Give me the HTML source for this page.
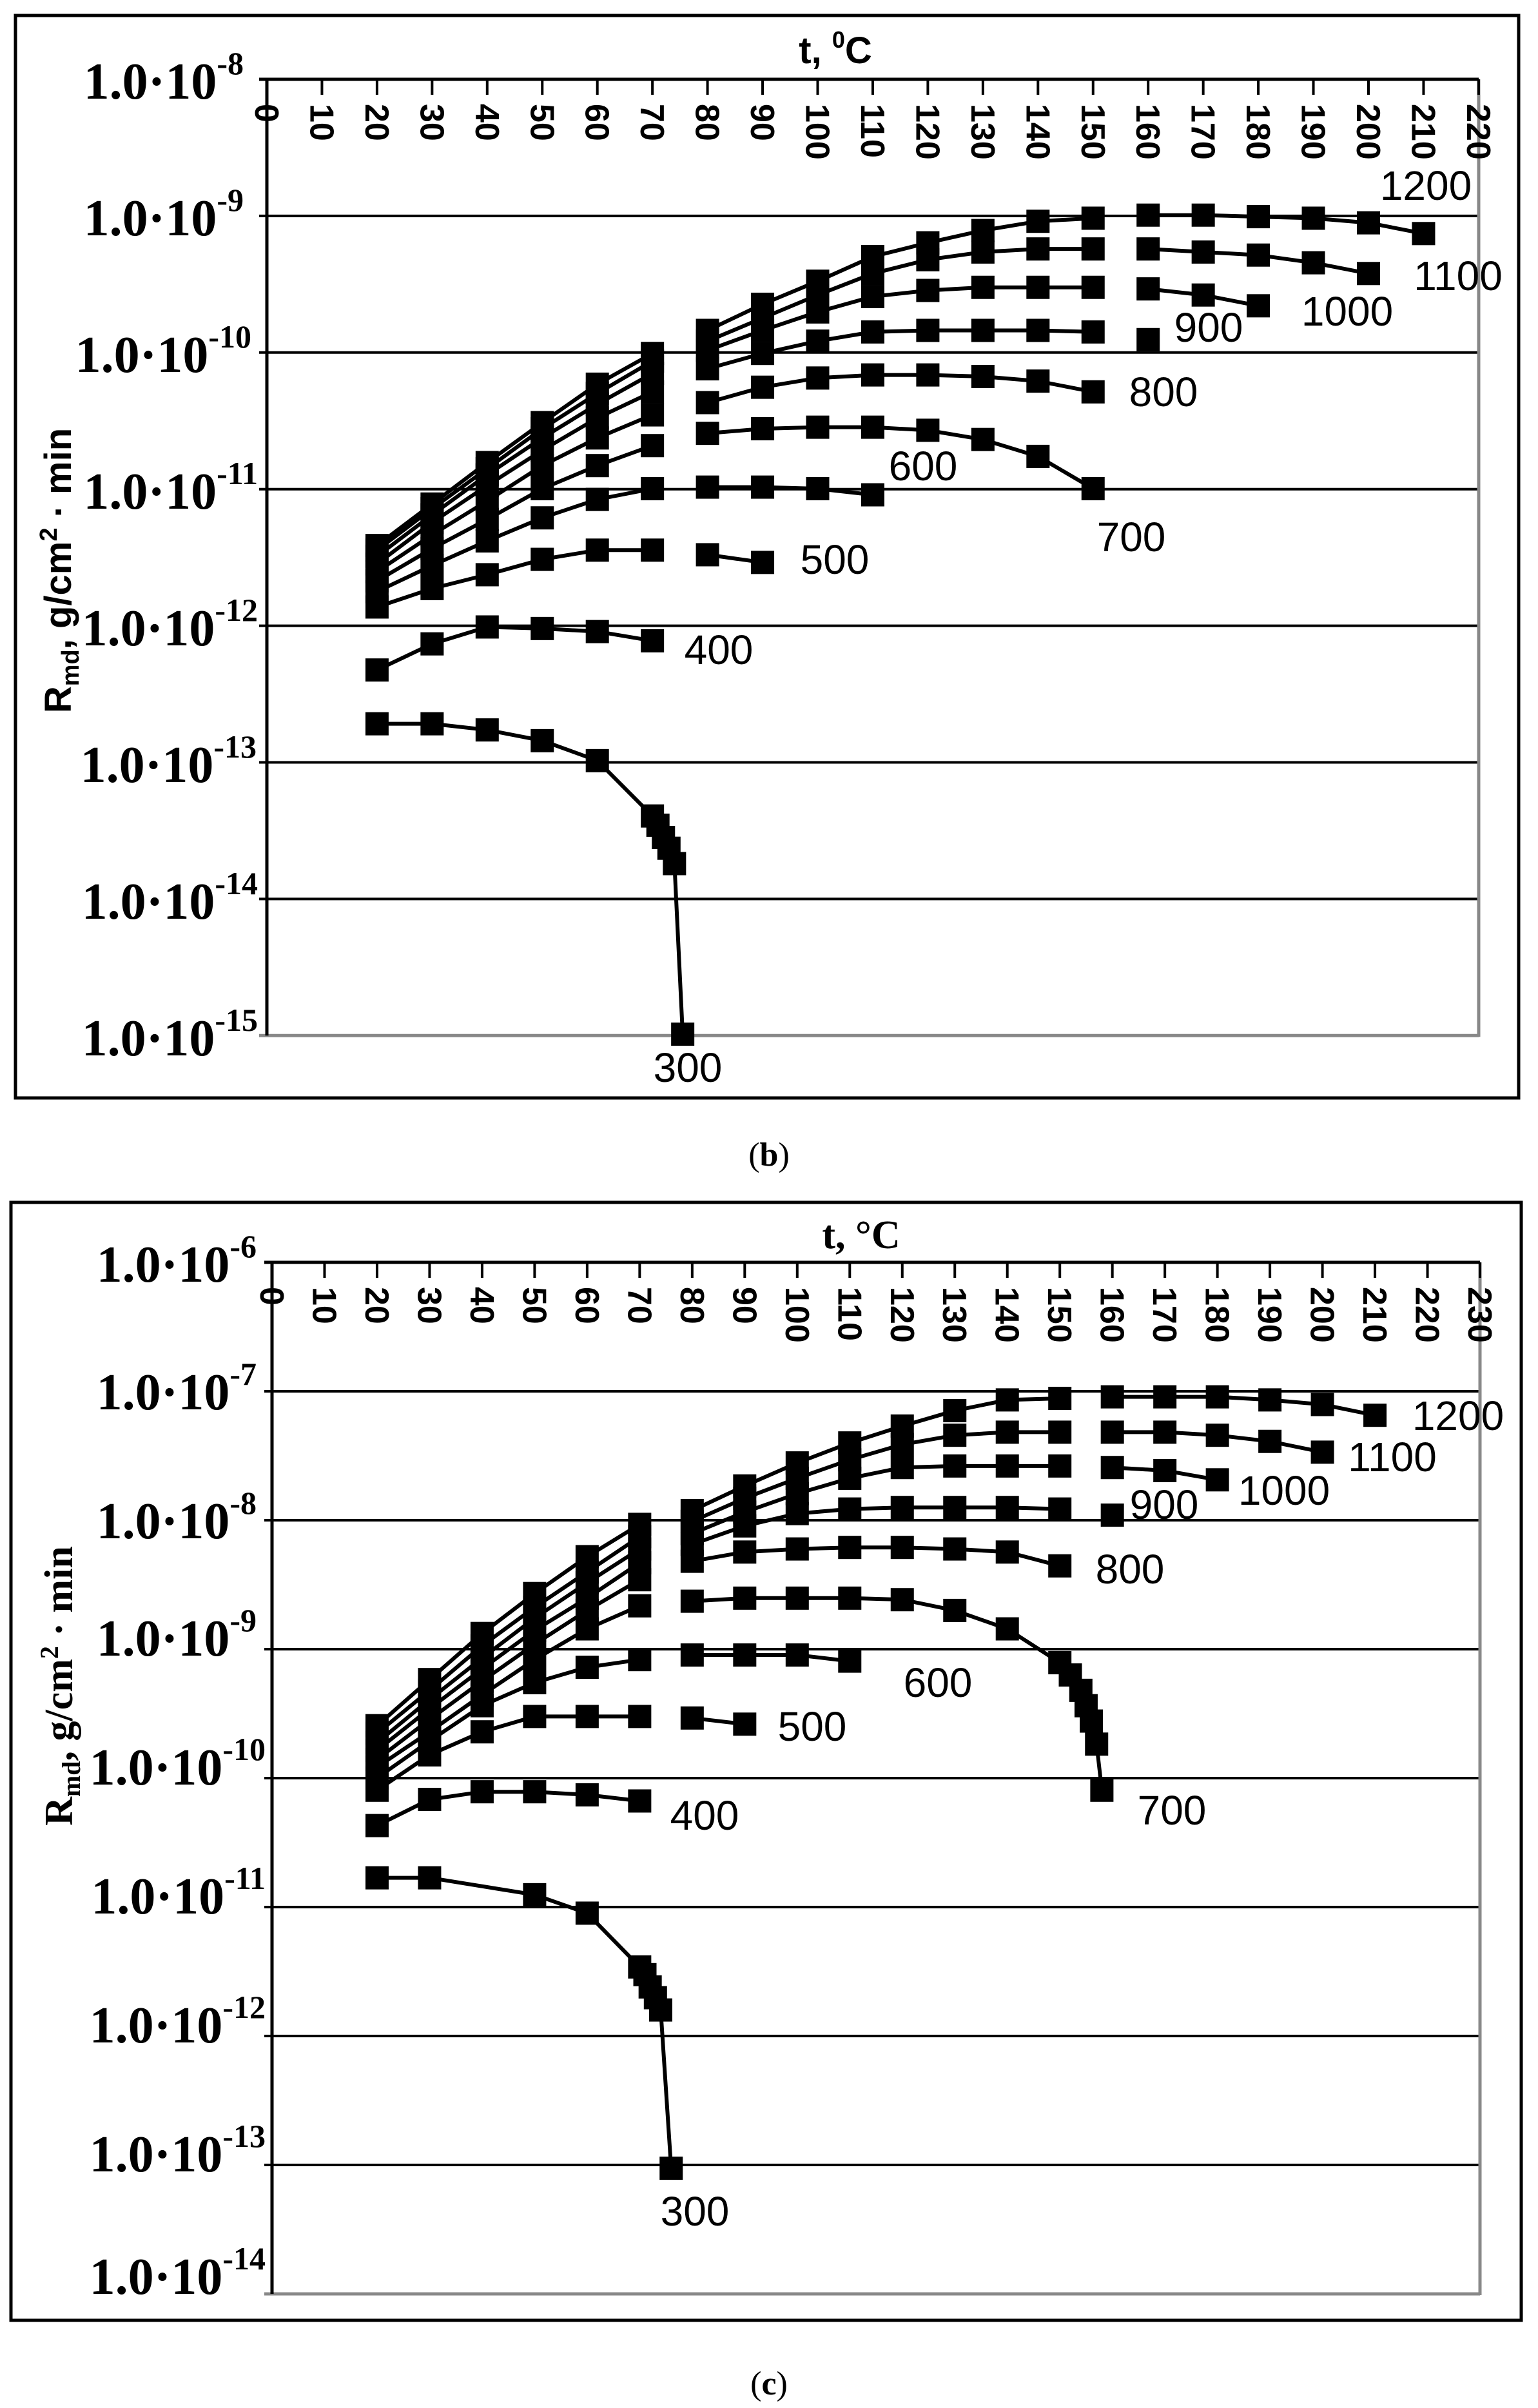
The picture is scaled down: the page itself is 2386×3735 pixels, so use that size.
<!DOCTYPE html>
<html><head><meta charset="utf-8"><style>
html,body{margin:0;padding:0;background:#fff;}
svg{display:block;}
.yl{font-family:"Liberation Serif",serif;font-weight:bold;font-size:80px;}
.ys{font-size:50px;}
.xt{font-family:"Liberation Sans",sans-serif;font-weight:bold;font-size:52px;}
.lb{font-family:"Liberation Sans",sans-serif;font-size:64px;}
</style></head><body>
<svg id="s" width="2386" height="3735" viewBox="0 0 2386 3735" xmlns="http://www.w3.org/2000/svg">
<rect x="0" y="0" width="2386" height="3735" fill="#fff"/>
<rect x="24" y="24" width="2332" height="1679" fill="none" stroke="#000" stroke-width="5"/>
<rect x="17" y="1865" width="2343" height="1734" fill="none" stroke="#000" stroke-width="5"/>
<g id="gb"></g><g id="gc"></g>

<text x="1296" y="98" font-family="Liberation Sans, sans-serif" font-weight="bold" font-size="58" text-anchor="middle">t, <tspan font-size="36" dy="-24">0</tspan><tspan dy="24">C</tspan></text>
<text transform="translate(110,885) rotate(-90)" font-family="Liberation Sans, sans-serif" font-weight="bold" font-size="58" text-anchor="middle">R<tspan font-size="38" dy="12">md</tspan><tspan dy="-12">, g/cm</tspan><tspan font-size="38" dy="-22">2</tspan><tspan dy="22"> · min</tspan></text>
<g class="yl" text-anchor="end">
<text x="378" y="153">1.0·10<tspan class="ys" dy="-38">-8</tspan></text>
<text x="378" y="365">1.0·10<tspan class="ys" dy="-38">-9</tspan></text>
<text x="390" y="577">1.0·10<tspan class="ys" dy="-38">-10</tspan></text>
<text x="400" y="789">1.0·10<tspan class="ys" dy="-38">-11</tspan></text>
<text x="400" y="1001">1.0·10<tspan class="ys" dy="-38">-12</tspan></text>
<text x="398" y="1213">1.0·10<tspan class="ys" dy="-38">-13</tspan></text>
<text x="400" y="1425">1.0·10<tspan class="ys" dy="-38">-14</tspan></text>
<text x="400" y="1637">1.0·10<tspan class="ys" dy="-38">-15</tspan></text>
</g>
<g class="lb" text-anchor="middle">
<text x="2212" y="310">1200</text>
<text x="2262" y="450">1100</text>
<text x="2090" y="505">1000</text>
<text x="1875" y="530">900</text>
<text x="1805" y="630">800</text>
<text x="1755" y="855">700</text>
<text x="1432" y="745">600</text>
<text x="1295" y="890">500</text>
<text x="1115" y="1030">400</text>
<text x="1067" y="1678">300</text>
</g>
<text x="1193" y="1808" font-family="Liberation Serif, serif" font-size="52" text-anchor="middle">(<tspan font-weight="bold">b</tspan>)</text>

<text x="1336" y="1936" font-family="Liberation Serif, serif" font-weight="bold" font-size="62" text-anchor="middle">t, °C</text>
<text transform="translate(112,2615) rotate(-90)" font-family="Liberation Serif, serif" font-weight="bold" font-size="62" text-anchor="middle">R<tspan font-size="40" dy="12">md</tspan><tspan dy="-12">, g/cm</tspan><tspan font-size="40" dy="-22">2</tspan><tspan dy="22"> · min</tspan></text>
<g class="yl" text-anchor="end">
<text x="398" y="1988">1.0·10<tspan class="ys" dy="-38">-6</tspan></text>
<text x="398" y="2186">1.0·10<tspan class="ys" dy="-38">-7</tspan></text>
<text x="398" y="2386">1.0·10<tspan class="ys" dy="-38">-8</tspan></text>
<text x="398" y="2568">1.0·10<tspan class="ys" dy="-38">-9</tspan></text>
<text x="412" y="2768">1.0·10<tspan class="ys" dy="-38">-10</tspan></text>
<text x="412" y="2968">1.0·10<tspan class="ys" dy="-38">-11</tspan></text>
<text x="412" y="3168">1.0·10<tspan class="ys" dy="-38">-12</tspan></text>
<text x="412" y="3368">1.0·10<tspan class="ys" dy="-38">-13</tspan></text>
<text x="412" y="3558">1.0·10<tspan class="ys" dy="-38">-14</tspan></text>
</g>
<g class="lb" text-anchor="middle">
<text x="2262" y="2218">1200</text>
<text x="2160" y="2282">1100</text>
<text x="1992" y="2334">1000</text>
<text x="1806" y="2356">900</text>
<text x="1753" y="2456">800</text>
<text x="1818" y="2830">700</text>
<text x="1455" y="2632">600</text>
<text x="1260" y="2700">500</text>
<text x="1093" y="2838">400</text>
<text x="1078" y="3452">300</text>
</g>
<text x="1193" y="3714" font-family="Liberation Serif, serif" font-size="52" text-anchor="middle">(<tspan font-weight="bold">c</tspan>)</text>
</svg>
<script>
var NS="http://www.w3.org/2000/svg";
function el(p,n,a){var e=document.createElementNS(NS,n);for(var k in a)e.setAttribute(k,a[k]);p.appendChild(e);return e;}
var K=2.3835;
function panel(g,o){
  for(var i=1;i<o.dec;i++){var y=o.top+i*o.sp;el(g,"line",{x1:o.x0-12,y1:y,x2:o.xr,y2:y,stroke:"#000","stroke-width":4});}
  var yb=o.top+o.dec*o.sp;
  el(g,"line",{x1:o.x0-12,y1:yb,x2:o.xr,y2:yb,stroke:"#888","stroke-width":5});
  el(g,"line",{x1:o.xr,y1:o.top,x2:o.xr,y2:yb+2,stroke:"#888","stroke-width":5});
  el(g,"line",{x1:o.x0-12,y1:o.top,x2:o.xr,y2:o.top,stroke:"#000","stroke-width":5});
  el(g,"line",{x1:o.x0,y1:o.top,x2:o.x0,y2:yb,stroke:"#000","stroke-width":5});
  for(var t=0;t<=o.tmax;t+=10){var x=o.x0+t*o.px;
    el(g,"line",{x1:x,y1:o.top,x2:x,y2:o.top+24,stroke:"#000","stroke-width":4});
    var tx=el(g,"text",{x:0,y:0,"class":"xt",transform:"translate("+(x-18)+","+(o.top+38)+") rotate(90)"});
    tx.textContent=String(t);}
  o.series.forEach(function(s){
    var pts=s.d.map(function(p){return [o.x0+p[0]*o.px,p[1]*K];});
    var seg=[];
    for(var i=0;i<pts.length;i++){
      if(i>0 && s.br && s.br.indexOf(s.d[i][0])>=0){ if(seg.length>1) el(g,"polyline",{points:seg.join(" "),fill:"none",stroke:"#000","stroke-width":6}); seg=[]; }
      seg.push(pts[i][0].toFixed(1)+","+pts[i][1].toFixed(1));
    }
    if(seg.length>1) el(g,"polyline",{points:seg.join(" "),fill:"none",stroke:"#000","stroke-width":6});
    pts.forEach(function(p){el(g,"rect",{x:p[0]-18,y:p[1]-18,width:36,height:36,fill:"#000"});});
  });
}
function mk(T,Y){return Y.map(function(y,i){return [T[i],y];});}
var T20=[20,30,40,50,60,70,80,90,100,110,120,130,140,150,160,170,180,190,200,210];
var bS=[
 {d:mk([20,30,40,50,60,70,71,72,73,74,75.5],[471,471,475,482,495,531,537,545,552,562,673])},
 {d:mk(T20,[436,419,408,409,411,417])},
 {d:mk(T20,[395,383,374,364,358,358,361,366]),br:[80]},
 {d:mk(T20,[385,368,352,337,325,318,317,317,318,322]),br:[80]},
 {d:mk(T20,[378,357,338,318,303,290,282,279,278,278,280,286,297,318]),br:[80]},
 {d:mk(T20,[372,348,326,303,285,270,262,252,246,244,244,245,248,255]),br:[80]},
 {d:mk(T20,[367,340,316,293,272,255,240,230,222,216,215,215,215,216,221]),br:[80,160]},
 {d:mk(T20,[362,335,309,285,263,243,228,215,203,193,189,187,187,187,188,192,199]),br:[80,160]},
 {d:mk(T20,[358,331,305,279,256,235,222,207,192,178,169,164,162,162,162,164,166,171,178]),br:[80,160]},
 {d:mk(T20,[355,328,301,275,250,230,215,198,183,167,158,150,144,142,140,140,141,142,145,152]),br:[80,160]}
];
var cS=[
 {d:mk([20,30,50,60,70,71,72,73,74,76],[1222,1222,1233,1245,1280,1285,1293,1300,1308,1411])},
 {d:mk(T20,[1188,1171,1166,1166,1168,1172])},
 {d:mk(T20,[1165,1142,1127,1117,1117,1117,1118,1122]),br:[80]},
 {d:mk(T20,[1157,1133,1110,1095,1085,1080,1077,1077,1077,1081]),br:[80]},
 {d:mk([20,30,40,50,60,70,80,90,100,110,120,130,140,150,152,154,155,156,157,158],[1150,1127,1103,1080,1060,1045,1042,1040,1040,1040,1041,1048,1060,1082,1090,1100,1110,1120,1135,1165]),br:[80]},
 {d:mk(T20,[1145,1119,1094,1070,1048,1028,1016,1010,1008,1007,1007,1008,1010,1019]),br:[80]},
 {d:mk(T20,[1139,1112,1086,1061,1040,1017,1005,993,985,982,981,981,981,982,986]),br:[80,160]},
 {d:mk(T20,[1134,1106,1079,1053,1030,1008,998,984,972,962,955,954,954,954,955,957,963]),br:[80,160]},
 {d:mk(T20,[1128,1100,1071,1046,1023,1000,990,975,962,950,940,934,932,932,932,932,934,938,945]),br:[80,160]},
 {d:mk(T20,[1123,1093,1063,1037,1013,992,983,967,952,939,928,918,911,910,909,909,909,911,914,921]),br:[80,160]}
];
panel(document.getElementById("gb"),{x0:414,px:8.545,xr:2294,top:123,sp:211.9,dec:7,tmax:220,series:bS});
panel(document.getElementById("gc"),{x0:422,px:8.148,xr:2296,top:1958,sp:200,dec:8,tmax:230,series:cS});
</script>
</body></html>
